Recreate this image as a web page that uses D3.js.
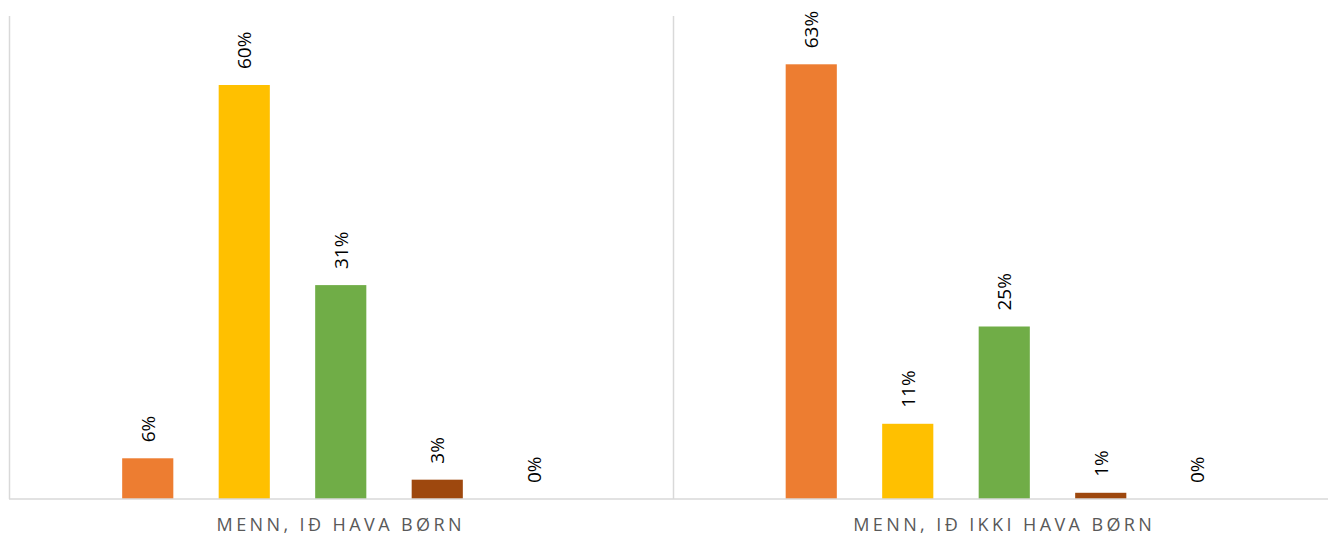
<!DOCTYPE html>
<html>
<head>
<meta charset="utf-8">
<script src="https://cdn.jsdelivr.net/npm/d3@7"></script>
<style>
    body{margin:0;background:#fff;}
    svg{display:block;}
</style>
</head>
<body>
<div id="chart"></div>
<script>
var categories=["MENN, IÐ HAVA BØRN","MENN, IÐ IKKI HAVA BØRN"];
var seriesNames=["s1","s2","s3","s4","s5"];
var seriesColors=["#ED7D31","#FFC000","#70AD47","#9E480E","#A5A5A5"];
var valuesHava=[5.9,60,31,2.8,0];
var valuesIkki=[63,10.9,25,0.9,0];
var valueLabelsHava=["6%","60%","31%","3%","0%"];
var valueLabelsIkki=["63%","11%","25%","1%","0%"];

var width=1328, height=536;
var plotLeft=9, plotTop=16, plotBottom=499;

var svg=d3.select('#chart').append('svg')
    .attr('width',width)
    .attr('height',height);

var x=d3.scaleBand()
    .domain(categories)
    .range([plotLeft,plotLeft+2*663.5]);

var slots=96.5*5;
var xInner=d3.scaleBand()
    .domain(seriesNames)
    .range([(x.bandwidth()-slots)/2,(x.bandwidth()+slots)/2])
    .paddingInner(0.47)
    .paddingOuter(0.235);

var y=d3.scaleLinear()
    .domain([0,70])
    .range([plotBottom,plotTop]);

var rows=[
    {cat:categories[0],values:valuesHava,labels:valueLabelsHava},
    {cat:categories[1],values:valuesIkki,labels:valueLabelsIkki}
];

//separator lines between categories
var seps=[categories[0],categories[1]];
svg.selectAll('line.sep').data(seps)
    .enter().append('line')
        .attr('class','sep')
        .attr('x1',function(d){return Math.round(x(d))+0.5;})
        .attr('x2',function(d){return Math.round(x(d))+0.5;})
        .attr('y1',y(70))
        .attr('y2',plotBottom)
        .attr('stroke','#D9D9D9')
        .attr('stroke-width',1.5);

var groups=svg.selectAll('g.cat').data(rows)
    .enter().append('g')
        .attr('class','cat')
        .attr('transform',function(d){return 'translate('+x(d.cat)+',0)';});

groups.selectAll('rect').data(function(d){
        return d.values.map(function(v,i){return {name:seriesNames[i],value:v,color:seriesColors[i]};});
    })
    .enter().append('rect')
        .attr('x',function(d){return xInner(d.name);})
        .attr('y',function(d){return y(d.value);})
        .attr('width',xInner.bandwidth())
        .attr('height',function(d){return plotBottom-y(d.value);})
        .attr('fill',function(d){return d.color;});

groups.selectAll('text.val').data(function(d){
        return d.values.map(function(v,i){return {name:seriesNames[i],value:v,label:d.labels[i]};});
    })
    .enter().append('text')
        .attr('class','val')
        .attr('transform',function(d){
            var cx=xInner(d.name)+xInner.bandwidth()/2;
            return 'translate('+cx+','+(y(d.value)-16)+') rotate(-90)';
        })
        .attr('dominant-baseline','central')
        .attr('text-anchor','start')
        .style('font-family','"Open Sans", sans-serif')
        .style('font-size','19px')
        .attr('fill','#000')
        .text(function(d){return d.label;});

//axis line
var axis=d3.axisBottom(x).tickSize(0).tickPadding(0);
var axisG=svg.append('g')
    .attr('transform','translate(0,'+plotBottom+')')
    .call(axis);
axisG.select('.domain')
    .attr('stroke','#D9D9D9')
    .attr('stroke-width',1.5)
    .attr('d','M'+plotLeft+',0H'+width);
axisG.selectAll('.tick text')
    .attr('y',32)
    .attr('dy',0)
    .attr('fill','#595959')
    .style('font-family','"Open Sans", sans-serif')
    .style('font-size','18px')
    .style('letter-spacing','3.4px');
</script>
</body>
</html>
